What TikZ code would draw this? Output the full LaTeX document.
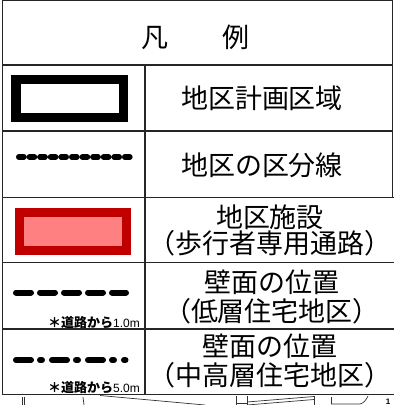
\documentclass[tikz,border=0pt]{standalone}
\usepackage{fontspec}
\setmainfont{Noto Sans CJK JP}
\newfontfamily\latinsans{Liberation Sans}
\definecolor{darkred}{RGB}{192,0,0}
\definecolor{pinkfill}{RGB}{255,128,128}
\begin{document}
\begin{tikzpicture}[x=1pt,y=-1pt,
  grid/.style={line width=1.2pt, draw=black!85},
  cjk/.style={font=\fontsize{27}{26}\selectfont, inner sep=0pt, align=center},
  cjktwo/.style={font=\fontsize{27}{29}\selectfont, inner sep=0pt, align=center},
  note/.style={anchor=base east, inner sep=0pt},
  thickdash/.style={line width=6pt, line cap=round, draw=black},
  mapline/.style={line width=0.7pt, draw=black!80}]
\useasboundingbox (0,0) rectangle (394,405);
\clip (0,0) rectangle (394,405);
\fill[white] (0,0) rectangle (394,405);

% table frame
\draw[grid] (2.7,0.7) -- (392.5,0.7);
\draw[grid] (2.7,0) -- (2.7,394.5);
\draw[grid] (392.5,0) -- (392.5,198);
\draw[grid] (2.7,65) -- (392.5,65);
\draw[grid] (2.7,131) -- (392.5,131);
\draw[grid] (2.7,197.5) -- (394,197.5);
\draw[grid] (2.7,262.5) -- (394,262.5);
\draw[grid] (2.7,329) -- (394,329);
\draw[grid] (2.7,394.5) -- (394,394.5);
\draw[grid] (145,65) -- (145,394.5);

% symbols
\draw[line width=9.5pt, draw=black] (15.8,79.5) rectangle (123.7,117.6);
\draw[thickdash, line width=5.6pt, dash pattern=on 5pt off 5.6pt] (18.8,157) -- (129.8,157);
\draw[line width=9pt, draw=darkred, fill=pinkfill] (19.5,212.5) rectangle (126.5,250.5);
\draw[thickdash, dash pattern=on 15pt off 9pt] (16,292.5) -- (126,292.5);
\draw[thickdash, dash pattern=on 15pt off 9pt on 2pt off 10pt] (16,360) -- (125.5,360);

% texts
\node[cjk] (title) at (195.5,37) {凡　　例};
\node[cjk] (t2) at (262,98) {地区計画区域};
\node[cjk] (t3) at (262,165) {地区の区分線};
\node[cjk] (t4) at (270,230) {地区施設\\（歩行者専用通路）};
\node[cjktwo] (t5) at (272,296.5) {壁面の位置\\（低層住宅地区）};
\node[cjktwo] (t6) at (270,361) {壁面の位置\\（中高層住宅地区）};
\node[note] (n5) at (140,327) {\fontsize{13}{13}\selectfont\bfseries ＊道路から\latinsans\mdseries\fontsize{12}{12}\selectfont 1.0m};
\node[note] (n6) at (140,392) {\fontsize{13}{13}\selectfont\bfseries ＊道路から\latinsans\mdseries\fontsize{12}{12}\selectfont 5.0m};

% map fragments below the legend
\draw[mapline] (22,397) -- (22,405);
\draw[mapline] (24.5,397) -- (24.5,405);
\draw[mapline] (83,397) -- (84,405);
\draw[mapline] (100,395.5) -- (205,405);
\draw[mapline] (236,396) -- (236,405);
\draw[mapline] (236,403.5) -- (247,403.5);
\draw[mapline] (247,396) -- (247,405);
\draw[mapline] (247,402) -- (314,396.5);
\draw[mapline] (247,405) -- (314,399.5);
\draw[mapline] (314,396) -- (314,405);
\draw[mapline] (331,397) -- (331,404);
\draw[mapline] (331,404) -- (360,404) .. controls (364,403) and (366,400) .. (368,396);
\node[font=\latinsans\bfseries\fontsize{8}{8}\selectfont, anchor=base, inner sep=0pt] (pg) at (388,404) {1};
\end{tikzpicture}
\end{document}
